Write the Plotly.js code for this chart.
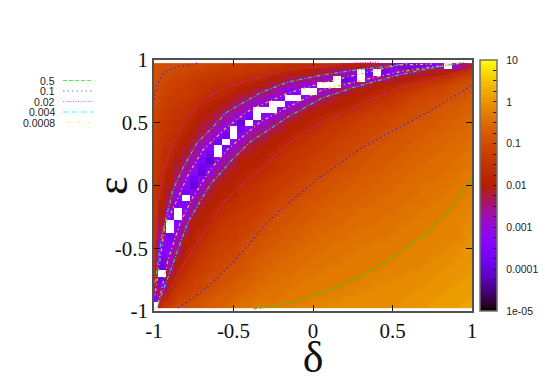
<!DOCTYPE html>
<html>
<head>
<meta charset="utf-8">
<script src="https://cdn.plot.ly/plotly-3.0.1.min.js"></script>
<style>
html, body { margin: 0; padding: 0; background: #fff; }
#chart { width: 545px; height: 382px; }
</style>
</head>
<body>
<div id="chart"></div>
<script>
const _ = null; // white cells in the map (value is off the bottom of the scale)

const deltaValues = [-1, -0.95, -0.9, -0.85, -0.8, -0.75, -0.7, -0.65, -0.6, -0.55, -0.5, -0.45, -0.4, -0.35, -0.3, -0.25, -0.2, -0.15, -0.1, -0.05, 0,
    0.05, 0.1, 0.15, 0.2, 0.25, 0.3, 0.35, 0.4, 0.45, 0.5, 0.55, 0.6, 0.65, 0.7, 0.75, 0.8, 0.85, 0.9, 0.95, 1];
const epsilonValues = [-0.95, -0.9, -0.85, -0.8, -0.75, -0.7, -0.65, -0.6, -0.55, -0.5, -0.45, -0.4, -0.35, -0.3, -0.25, -0.2, -0.15, -0.1, -0.05, 0,
    0.05, 0.1, 0.15, 0.2, 0.25, 0.3, 0.35, 0.4, 0.45, 0.5, 0.55, 0.6, 0.65, 0.7, 0.75, 0.8, 0.85, 0.9, 0.95];

// log10 of the value x 10, one line per delta column, epsilon going up
const logTenths = [
    [_,-34,-26,-22,-20,-18,-17,-17,-16,-16,-16,-15,-15,-15,-15,-14,-14,-14,-14,-14,-13,-13,-13,-13,-12,-12,-12,-12,-12,-11,-11,-11,-10,-10,-10,-9,-9,-9,-9],
    [-15,-19,-24,-32,-38,_,-39,-37,-35,-33,-30,-25,-23,-22,-21,-21,-20,-19,-18,-18,-17,-17,-16,-16,-16,-15,-15,-14,-14,-14,-13,-13,-12,-12,-11,-11,-10,-10,-9],
    [-13,-15,-16,-18,-20,-23,-26,-28,-31,-33,-35,-37,_,_,-33,-29,-25,-23,-22,-21,-20,-20,-19,-18,-17,-17,-16,-16,-15,-15,-14,-14,-13,-13,-12,-12,-11,-10,-10],
    [-10,-12,-13,-14,-16,-17,-19,-20,-23,-25,-27,-29,-31,-34,_,_,-35,-31,-29,-26,-24,-23,-22,-21,-20,-19,-18,-17,-16,-16,-15,-15,-14,-13,-13,-12,-12,-11,-10],
    [-10,-11,-12,-13,-14,-15,-16,-17,-18,-19,-20,-22,-24,-26,-29,-31,-35,_,-36,-33,-30,-28,-25,-24,-22,-21,-20,-19,-18,-17,-16,-15,-15,-14,-13,-13,-12,-11,-11],
    [-9,-10,-11,-12,-12,-13,-14,-15,-16,-17,-18,-18,-19,-20,-22,-25,-27,-30,-35,-40,-37,-33,-31,-28,-26,-24,-22,-21,-20,-19,-18,-17,-16,-15,-14,-14,-13,-12,-11],
    [-8,-9,-10,-11,-11,-12,-13,-13,-14,-15,-16,-17,-18,-19,-19,-20,-22,-24,-27,-30,-33,-40,-38,-35,-32,-29,-26,-23,-22,-21,-20,-19,-18,-16,-15,-15,-14,-12,-11],
    [-7,-8,-9,-10,-10,-11,-12,-12,-13,-13,-14,-15,-16,-17,-18,-19,-20,-21,-22,-24,-27,-31,-35,-41,-37,-33,-30,-27,-24,-23,-21,-20,-19,-18,-16,-15,-14,-13,-12],
    [-7,-7,-8,-9,-10,-10,-11,-11,-12,-12,-13,-14,-14,-15,-16,-17,-18,-19,-20,-21,-23,-25,-28,-31,_,_,-37,-31,-28,-25,-23,-21,-20,-18,-17,-16,-15,-13,-12],
    [-6,-7,-7,-8,-9,-9,-10,-11,-11,-12,-12,-13,-13,-14,-15,-16,-17,-18,-19,-20,-21,-22,-24,-27,-30,-36,_,-37,-32,-28,-26,-23,-21,-19,-18,-16,-15,-14,-13],
    [-5,-6,-7,-7,-8,-9,-9,-10,-11,-11,-12,-13,-13,-14,-14,-15,-16,-17,-18,-19,-19,-20,-22,-23,-26,-29,-32,_,_,-31,-28,-25,-23,-21,-19,-17,-16,-14,-13],
    [-4,-5,-6,-7,-7,-8,-9,-9,-10,-10,-11,-12,-12,-13,-13,-14,-15,-15,-16,-17,-18,-19,-20,-20,-22,-25,-28,-32,-36,-40,-31,-27,-25,-23,-20,-18,-16,-14,-13],
    [-4,-5,-5,-6,-7,-7,-8,-8,-9,-9,-10,-11,-12,-12,-13,-13,-14,-15,-15,-16,-17,-18,-19,-20,-21,-22,-24,-27,-31,_,-37,-31,-27,-24,-21,-19,-17,-15,-14],
    [-3,-4,-5,-5,-6,-6,-7,-7,-8,-9,-9,-10,-11,-11,-12,-13,-13,-14,-15,-15,-16,-17,-18,-19,-20,-21,-22,-24,-27,-31,_,_,-30,-26,-23,-20,-17,-15,-14],
    [-3,-4,-4,-5,-5,-6,-6,-7,-7,-8,-8,-9,-10,-10,-11,-12,-12,-13,-13,-14,-15,-16,-17,-18,-19,-20,-21,-23,-26,-29,-33,_,-31,-27,-24,-21,-19,-16,-14],
    [-3,-4,-4,-4,-5,-5,-6,-6,-7,-7,-8,-8,-9,-9,-10,-11,-11,-12,-13,-13,-14,-15,-16,-16,-17,-19,-20,-21,-23,-25,-30,_,_,-30,-26,-23,-20,-17,-15],
    [-3,-3,-4,-4,-4,-5,-5,-6,-6,-7,-7,-8,-8,-9,-9,-10,-10,-11,-12,-13,-13,-14,-15,-15,-16,-17,-19,-20,-22,-23,-27,-31,_,-32,-28,-24,-21,-18,-15],
    [-3,-3,-3,-4,-4,-5,-5,-5,-6,-6,-7,-7,-8,-8,-9,-9,-10,-11,-11,-12,-13,-13,-14,-15,-15,-16,-17,-19,-20,-21,-24,-28,-33,_,-34,-27,-23,-19,-16],
    [-2,-3,-3,-3,-4,-4,-5,-5,-5,-6,-6,-7,-7,-8,-8,-9,-9,-10,-11,-11,-12,-13,-13,-14,-15,-15,-16,-17,-19,-20,-22,-25,-30,_,-33,-27,-23,-19,-16],
    [-2,-3,-3,-3,-3,-4,-4,-5,-5,-5,-6,-6,-7,-7,-8,-8,-9,-9,-10,-11,-11,-12,-13,-13,-14,-14,-15,-16,-18,-19,-20,-22,-26,-31,_,-30,-25,-20,-17],
    [-2,-2,-3,-3,-3,-4,-4,-4,-5,-5,-5,-6,-6,-7,-7,-8,-8,-9,-9,-10,-10,-11,-12,-12,-13,-14,-14,-15,-17,-18,-19,-21,-24,-27,_,-31,-25,-21,-17],
    [-2,-2,-3,-3,-3,-3,-4,-4,-4,-5,-5,-5,-6,-6,-7,-7,-8,-8,-9,-9,-10,-11,-11,-12,-12,-13,-14,-14,-15,-17,-18,-20,-22,-24,-29,_,-27,-22,-17],
    [-1,-2,-2,-3,-3,-3,-3,-4,-4,-4,-5,-5,-6,-6,-6,-7,-7,-8,-8,-9,-9,-10,-11,-11,-12,-12,-13,-14,-14,-15,-17,-19,-21,-23,-27,_,-29,-23,-18],
    [-1,-2,-2,-3,-3,-3,-3,-4,-4,-4,-4,-5,-5,-6,-6,-6,-7,-7,-8,-8,-9,-9,-10,-11,-11,-12,-12,-13,-14,-14,-16,-18,-20,-21,-24,_,_,-25,-19],
    [-1,-1,-2,-2,-3,-3,-3,-3,-4,-4,-4,-5,-5,-5,-6,-6,-7,-7,-7,-8,-8,-9,-9,-10,-11,-11,-12,-12,-13,-14,-15,-17,-19,-20,-23,-30,-39,-27,-20],
    [-1,-1,-2,-2,-3,-3,-3,-3,-3,-4,-4,-4,-5,-5,-5,-6,-6,-7,-7,-7,-8,-8,-9,-9,-10,-11,-11,-12,-12,-13,-14,-16,-18,-19,-21,-27,-36,-28,-20],
    [-1,-1,-1,-2,-2,-3,-3,-3,-3,-3,-4,-4,-4,-5,-5,-5,-6,-6,-7,-7,-7,-8,-8,-9,-9,-10,-11,-11,-12,-12,-13,-15,-17,-18,-20,-24,_,_,-21],
    [-1,-1,-1,-2,-2,-2,-3,-3,-3,-3,-4,-4,-4,-5,-5,-5,-6,-6,-6,-7,-7,-7,-8,-8,-9,-9,-10,-11,-11,-12,-12,-14,-15,-17,-19,-22,-29,-36,-22],
    [-1,-1,-1,-1,-2,-2,-3,-3,-3,-3,-3,-4,-4,-4,-5,-5,-5,-6,-6,-6,-7,-7,-8,-8,-8,-9,-9,-10,-11,-11,-12,-13,-14,-16,-18,-20,-26,_,-23],
    [-1,-1,-1,-1,-2,-2,-2,-3,-3,-3,-3,-4,-4,-4,-4,-5,-5,-5,-6,-6,-6,-7,-7,-8,-8,-8,-9,-9,-10,-11,-11,-12,-14,-15,-17,-19,-24,-36,-24],
    [-1,-1,-1,-1,-1,-2,-2,-2,-3,-3,-3,-3,-4,-4,-4,-5,-5,-5,-5,-6,-6,-6,-7,-7,-8,-8,-8,-9,-9,-10,-11,-12,-13,-14,-16,-18,-22,-31,-31],
    [0,-1,-1,-1,-1,-2,-2,-2,-2,-3,-3,-3,-3,-4,-4,-4,-5,-5,-5,-5,-6,-6,-6,-7,-7,-8,-8,-8,-9,-9,-10,-11,-12,-13,-15,-17,-21,-28,-37],
    [0,0,-1,-1,-1,-1,-2,-2,-2,-2,-3,-3,-3,-3,-4,-4,-4,-5,-5,-5,-5,-6,-6,-6,-7,-7,-8,-8,-8,-9,-10,-10,-11,-12,-14,-16,-20,-24,-38],
    [0,0,0,-1,-1,-1,-2,-2,-2,-2,-2,-3,-3,-3,-3,-4,-4,-4,-5,-5,-5,-5,-6,-6,-6,-7,-7,-8,-8,-8,-9,-10,-10,-11,-13,-15,-18,-23,-36],
    [0,0,0,0,-1,-1,-1,-2,-2,-2,-2,-2,-3,-3,-3,-3,-4,-4,-4,-4,-5,-5,-5,-6,-6,-6,-7,-7,-8,-8,-9,-9,-10,-11,-12,-14,-17,-22,-36],
    [1,0,0,0,0,-1,-1,-1,-2,-2,-2,-2,-2,-3,-3,-3,-3,-4,-4,-4,-5,-5,-5,-5,-6,-6,-6,-7,-7,-8,-8,-9,-10,-10,-11,-13,-16,-21,-34],
    [1,1,0,0,0,0,-1,-1,-1,-2,-2,-2,-2,-2,-3,-3,-3,-3,-4,-4,-4,-5,-5,-5,-5,-6,-6,-6,-7,-7,-8,-8,-9,-10,-11,-12,-15,-20,-30],
    [1,1,1,0,0,0,0,-1,-1,-1,-2,-2,-2,-2,-2,-3,-3,-3,-3,-4,-4,-4,-5,-5,-5,-5,-6,-6,-6,-7,-7,-8,-8,-9,-10,-11,-14,-19,_],
    [1,1,1,1,0,0,0,0,-1,-1,-1,-2,-2,-2,-2,-2,-3,-3,-3,-3,-4,-4,-4,-4,-5,-5,-5,-6,-6,-6,-7,-7,-8,-9,-9,-10,-12,-17,-29],
    [2,1,1,1,1,0,0,0,0,0,-1,-1,-1,-1,-2,-2,-2,-2,-3,-3,-3,-3,-4,-4,-4,-5,-5,-5,-6,-6,-6,-7,-7,-8,-9,-9,-11,-15,-24],
    [2,2,1,1,1,1,1,0,0,0,0,0,-1,-1,-1,-1,-2,-2,-2,-2,-3,-3,-3,-3,-4,-4,-4,-5,-5,-5,-6,-6,-7,-7,-8,-9,-10,-13,-18]
];

// contour lines, null splits the two branches
const levelNames = ['0.5', '0.1', '0.02', '0.004', '0.0008'];
const levelColors = ['#48c400', '#4a2cc4', '#e8189a', '#30c4c4', '#f0bc30'];
const keyColors = ['#22ee22', '#5050ff', '#ff33dd', '#00ffff', '#ffff00'];
const levelDashes = ['4px,2px', '1.5px,3px', '1px,1.5px', '4px,2px,1px,2px', '1px,3px,3px,3px'];

const line05X = [-0.377, -0.208, -0.038, 0.107, 0.314, 0.484, 0.717, 0.862, 1];
const line05Y = [-0.984, -0.952, -0.896, -0.833, -0.713, -0.586, -0.378, -0.195, 0.06];

const line01X = [-1, -0.981, -0.943, -0.855, -0.723, null, -0.849, -0.711, -0.604, -0.503, -0.396, -0.314, -0.208, 0.044, 0.314, 0.535, 0.748, 1];
const line01Y = [0.681, 0.801, 0.896, 0.944, 0.976, null, -0.976, -0.857, -0.737, -0.61, -0.458, -0.331, -0.195, 0.068, 0.307, 0.458, 0.602, 0.801];

const line002X = [-1, -0.987, -0.975, -0.943, -0.868, -0.792, -0.711, -0.604, -0.503, -0.352, -0.157, 0.057, 0.264, 0.421, null,
    -0.975, -0.818, -0.667, -0.566, -0.415, -0.333, -0.157, 0.057, 0.327, 0.535, 0.748, 1];
const line002Y = [-0.673, -0.355, -0.139, 0.124, 0.363, 0.538, 0.665, 0.745, 0.801, 0.857, 0.92, 0.952, 0.976, 0.984, null,
    -0.976, -0.633, -0.339, -0.139, 0.044, 0.124, 0.339, 0.506, 0.665, 0.777, 0.841, 0.936];

const line0004X = [-0.994, -0.95, -0.881, -0.818, -0.73, -0.648, -0.541, -0.415, -0.333, -0.157, 0.057, 0.264, 0.535, 0.597, null,
    -0.975, -0.931, -0.868, -0.786, -0.648, -0.522, -0.396, -0.157, 0.057, 0.264, 0.535, 0.748, 0.956];
const line0004Y = [-0.777, -0.394, -0.036, 0.139, 0.339, 0.442, 0.586, 0.681, 0.737, 0.825, 0.88, 0.92, 0.96, 0.976, null,
    -0.952, -0.793, -0.578, -0.291, 0.004, 0.187, 0.347, 0.546, 0.697, 0.785, 0.88, 0.936, 0.984];

const line00008X = [-0.994, -0.962, -0.931, -0.855, -0.786, -0.692, -0.541, -0.396, -0.157, 0.057, 0.264, 0.535, 0.748, null,
    -0.981, -0.95, -0.912, -0.836, -0.755, -0.648, -0.541, -0.333, -0.157, 0.057, 0.264, 0.535, 0.748, 0.937];
const line00008Y = [-0.873, -0.578, -0.315, -0.116, 0.084, 0.283, 0.466, 0.602, 0.737, 0.817, 0.88, 0.96, 0.968, null,
    -0.968, -0.817, -0.594, -0.299, -0.092, 0.124, 0.283, 0.506, 0.625, 0.761, 0.825, 0.904, 0.944, 0.976];

const levelX = [line05X, line01X, line002X, line0004X, line00008X];
const levelY = [line05Y, line01Y, line002Y, line0004Y, line00008Y];

const barLabels = ['1e-05', '0.0001', '0.001', '0.01', '0.1', '1', '10'];

// gnuplot default pm3d palette (7,5,15)
function paletteStops() {
    const stops = [];
    for (let i = 0; i <= 48; i++) {
        const g = i / 48;
        const r = Math.sqrt(g) * 255;
        const gr = Math.pow(g, 3) * 255;
        const b = Math.max(0, Math.sin(2 * Math.PI * g)) * 255;
        stops.push([g, `rgb(${Math.round(r)},${Math.round(gr)},${Math.round(b)})`]);
    }
    return stops;
}

const barTickVals = [];
const barTickText = [];
for (let i = 0; i <= 24; i++) {
    barTickVals.push(-5 + i * 0.25);
    // two nbsp, the labels stand a bit further off the bar than plotly puts them
    barTickText.push(i % 4 === 0 ? '\u00a0\u00a0' + barLabels[i / 4] : '');
}

const W = 545, H = 382;
const palette = paletteStops();

// far from the valley the map is a smooth gradient
const smoothTrace = {
    type: 'heatmap',
    x: deltaValues,
    y: epsilonValues,
    z: logTenths.map(col => col.map(v => v === null ? null : v / 10)),
    transpose: true,
    zsmooth: 'best',
    connectgaps: true,
    zmin: -5,
    zmax: 1,
    colorscale: palette,
    hoverinfo: 'skip',
    colorbar: {
        x: 480 / W,
        xanchor: 'left',
        xpad: 0,
        y: 1 - 185.5 / H,
        yanchor: 'middle',
        ypad: 0,
        len: 251 / H,
        thickness: 17,
        outlinecolor: '#707070',
        outlinewidth: 1.5,
        tickmode: 'array',
        tickvals: barTickVals,
        ticktext: barTickText,
        ticks: 'inside',
        ticklen: 4,
        tickcolor: '#222',
        tickfont: { family: 'Liberation Sans', size: 10.5, color: '#222' }
    }
};

// inside the valley the cells are visible
const valleyTrace = {
    type: 'heatmap',
    x: deltaValues,
    y: epsilonValues,
    z: logTenths.map(col => col.map(v => v !== null && v <= -20 ? v / 10 : null)),
    transpose: true,
    zmin: -5,
    zmax: 1,
    colorscale: palette,
    showscale: false,
    hoverinfo: 'skip'
};

const whiteTrace = {
    type: 'heatmap',
    x: deltaValues,
    y: epsilonValues,
    z: logTenths.map(col => col.map(v => v === null ? 1 : null)),
    transpose: true,
    colorscale: [[0, '#fff'], [1, '#fff']],
    showscale: false,
    hoverinfo: 'skip'
};

const lineTraces = levelNames.map((name, i) => ({
    type: 'scatter',
    mode: 'lines',
    name: name,
    x: levelX[i],
    y: levelY[i],
    line: { color: levelColors[i], width: 1.2, dash: levelDashes[i] },
    hoverinfo: 'skip'
}));

// key at the left: samples on their own small axes, gnuplot puts the text before the line
const keyTraces = levelNames.map((name, i) => ({
    type: 'scatter',
    mode: 'lines',
    xaxis: 'x2',
    yaxis: 'y2',
    name: name,
    x: [0, 1],
    y: [levelNames.length - 1 - i, levelNames.length - 1 - i],
    line: { color: keyColors[i], width: 0.8, dash: levelDashes[i] },
    hoverinfo: 'skip'
}));

const axisStyle = {
    range: [-1, 1],
    tickmode: 'array',
    tickvals: [-1, -0.5, 0, 0.5, 1],
    ticktext: ['-1', '-0.5', '0', '0.5', '1'],
    ticks: 'inside',
    ticklen: 6,
    tickcolor: '#111',
    showline: true,
    linecolor: '#505050',
    linewidth: 1.5,
    mirror: 'ticks',
    showgrid: false,
    zeroline: false,
    tickfont: { family: 'Liberation Serif', size: 21, color: '#111' }
};

const titleFont = { family: 'Liberation Serif', size: 44, color: '#111' };

const layout = {
    width: W,
    height: H,
    margin: { l: 0, r: 0, t: 0, b: 0, autoexpand: false },
    paper_bgcolor: '#fff',
    plot_bgcolor: '#fff',
    showlegend: false,
    xaxis: Object.assign({}, axisStyle, {
        domain: [154 / W, 472 / W],
        anchor: 'y',
        title: { text: 'δ', font: titleFont, standoff: 2 }
    }),
    yaxis: Object.assign({}, axisStyle, {
        domain: [1 - 311 / H, 1 - 60 / H],
        anchor: 'x'
    }),
    xaxis2: { domain: [63 / W, 93 / W], range: [0, 1], visible: false, anchor: 'y2', fixedrange: true },
    yaxis2: { domain: [1 - 127.75 / H, 1 - 75.25 / H], range: [-0.5, 4.5], visible: false, anchor: 'x2', fixedrange: true },
    annotations: levelNames.map((name, i) => ({
        xref: 'x2',
        yref: 'y2',
        x: 0,
        xanchor: 'right',
        xshift: -6,
        y: levelNames.length - 1 - i,
        yanchor: 'middle',
        text: name,
        showarrow: false,
        font: { family: 'Liberation Sans', size: 10.5, color: '#222' }
    })).concat([{
        // the title sits over the tick label column, which an axis title cannot do
        xref: 'paper',
        yref: 'paper',
        x: 112 / W,
        xanchor: 'center',
        y: 1 - 186 / H,
        yanchor: 'middle',
        text: 'ε',
        textangle: -90,
        showarrow: false,
        font: titleFont
    }])
};

Plotly.newPlot('chart', [smoothTrace, valleyTrace, whiteTrace].concat(lineTraces, keyTraces), layout, { displayModeBar: false });
</script>
</body>
</html>
